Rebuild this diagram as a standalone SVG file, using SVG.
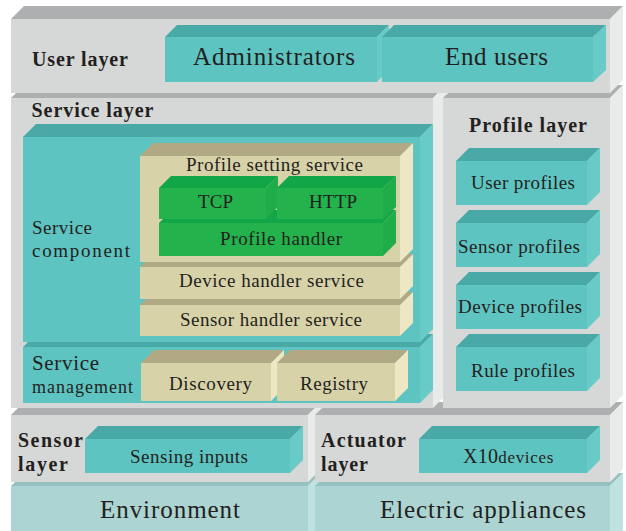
<svg xmlns="http://www.w3.org/2000/svg" width="626" height="531" viewBox="0 0 626 531">
<style>
.gf{fill:#d6d7d7}.gt{fill:#aeafb0}.gs{fill:#e9eaea}
.tf{fill:#5ec4c1}.tt{fill:#49a9a7}.ts{fill:#69cbc7}
.bf{fill:#d8d2a9}.bt{fill:#b1a984}.bs{fill:#ede8c3}
.nf{fill:#23b24b}.nt{fill:#11a748}.ns{fill:#1fac49}
.ef{fill:#acd4d2}.et{fill:#97c1bf}.es{fill:#bfe1df}
text{font-family:"Liberation Serif","Times New Roman",serif;fill:#231f20}
.b{font-weight:bold;font-size:20px}
.l{font-size:25px}
.m{font-size:19px}
</style>
<rect width="626" height="531" fill="#ffffff"/>

<g id="environment">
<polygon class="et" points="11,486 24,473 321,473 308,486"/>
<rect class="ef" x="11" y="486" width="297" height="45"/>
<polygon class="es" points="308,486 321,473 321,531 308,531"/>
<text class="l" x="100" y="518" textLength="140" lengthAdjust="spacing">Environment</text>
</g>
<g id="electric-appliances">
<polygon class="et" points="315,486 328,473 623,473 610,486"/>
<rect class="ef" x="315" y="486" width="295" height="45"/>
<polygon class="es" points="610,486 623,473 623,531 610,531"/>
<text class="l" x="380" y="518" textLength="206" lengthAdjust="spacing">Electric appliances</text>
</g>

<g id="sensor-layer">
<polygon class="gt" points="11,415 24,402 321,402 308,415"/>
<rect class="gf" x="11" y="415" width="297" height="67"/>
<polygon class="gs" points="308,415 321,402 321,469 308,482"/>
<text class="b" x="18" y="447" textLength="65" lengthAdjust="spacing">Sensor</text>
<text class="b" x="18" y="471" textLength="50" lengthAdjust="spacing">layer</text>
</g>
<g id="sensing-inputs">
<polygon class="tt" points="85,439 98,426 303,426 290,439"/>
<rect class="tf" x="85" y="439" width="205" height="34"/>
<polygon class="ts" points="290,439 303,426 303,460 290,473"/>
<text class="m" x="130" y="463" textLength="118" lengthAdjust="spacing">Sensing inputs</text>
</g>
<g id="actuator-layer">
<polygon class="gt" points="315,415 328,402 623,402 610,415"/>
<rect class="gf" x="315" y="415" width="295" height="67"/>
<polygon class="gs" points="610,415 623,402 623,469 610,482"/>
<text class="b" x="321" y="447" textLength="85" lengthAdjust="spacing">Actuator</text>
<text class="b" x="321" y="471" textLength="47" lengthAdjust="spacing">layer</text>
</g>
<g id="x10-devices">
<polygon class="tt" points="419,439 432,426 600,426 587,439"/>
<rect class="tf" x="419" y="439" width="168" height="34"/>
<polygon class="ts" points="587,439 600,426 600,460 587,473"/>
<text x="463" y="463"><tspan font-size="20" textLength="35" lengthAdjust="spacing">X10</tspan><tspan font-size="17" textLength="55" lengthAdjust="spacing">devices</tspan></text>
</g>

<g id="service-layer">
<polygon class="gt" points="11,98 24,85 446,85 433,98"/>
<rect class="gf" x="11" y="98" width="422" height="310"/>
<polygon class="gs" points="433,98 446,85 446,395 433,408"/>
<text class="b" x="31.5" y="117" textLength="122" lengthAdjust="spacing">Service layer</text>
</g>
<g id="service-management">
<polygon class="tt" points="23,347 36,334 433,334 420,347"/>
<rect class="tf" x="23" y="347" width="397" height="56"/>
<polygon class="ts" points="420,347 433,334 433,390 420,403"/>
<text font-size="21" x="32" y="370" textLength="67" lengthAdjust="spacing">Service</text>
<text font-size="18" x="32" y="393" textLength="101" lengthAdjust="spacing">management</text>
</g>
<g id="discovery">
<polygon class="bt" points="141,363 154,350 284,350 271,363"/>
<rect class="bf" x="141" y="363" width="130" height="38"/>
<polygon class="bs" points="271,363 284,350 284,388 271,401"/>
<text class="m" x="169" y="390" textLength="83" lengthAdjust="spacing">Discovery</text>
</g>
<g id="registry">
<polygon class="bt" points="277,363 290,350 408,350 395,363"/>
<rect class="bf" x="277" y="363" width="118" height="38"/>
<polygon class="bs" points="395,363 408,350 408,388 395,401"/>
<text class="m" x="300" y="390" textLength="68" lengthAdjust="spacing">Registry</text>
</g>
<g id="service-component">
<polygon class="tt" points="23,137 36,124 433,124 420,137"/>
<rect class="tf" x="23" y="137" width="397" height="205"/>
<polygon class="ts" points="420,137 433,124 433,329 420,342"/>
<text class="m" x="32" y="234" textLength="60" lengthAdjust="spacing">Service</text>
<text class="m" x="32" y="257" textLength="98" lengthAdjust="spacing">component</text>
</g>
<g id="sensor-handler-service">
<polygon class="bt" points="140,305 153,292 413,292 400,305"/>
<rect class="bf" x="140" y="305" width="260" height="31"/>
<polygon class="bs" points="400,305 413,292 413,323 400,336"/>
<text class="m" x="180" y="326" textLength="182" lengthAdjust="spacing">Sensor handler service</text>
</g>
<g id="device-handler-service">
<polygon class="bt" points="140,267 153,254 413,254 400,267"/>
<rect class="bf" x="140" y="267" width="260" height="32"/>
<polygon class="bs" points="400,267 413,254 413,286 400,299"/>
<text class="m" x="179" y="287" textLength="185" lengthAdjust="spacing">Device handler service</text>
</g>
<g id="profile-setting-service">
<polygon class="bt" points="140,156 153,143 413,143 400,156"/>
<rect class="bf" x="140" y="156" width="260" height="106"/>
<polygon class="bs" points="400,156 413,143 413,249 400,262"/>
<text class="m" x="186" y="171" textLength="177" lengthAdjust="spacing">Profile setting service</text>
</g>
<g id="profile-handler">
<polygon class="nt" points="159,223 172,210 396,210 383,223"/>
<rect class="nf" x="159" y="223" width="224" height="33"/>
<polygon class="ns" points="383,223 396,210 396,243 383,256"/>
<text class="m" x="220" y="245" textLength="122" lengthAdjust="spacing">Profile handler</text>
</g>
<g id="tcp">
<polygon class="nt" points="159,188 171,176 278,176 266,188"/>
<rect class="nf" x="159" y="188" width="107" height="31"/>
<polygon class="ns" points="266,188 278,176 278,207 266,219"/>
<text class="m" x="198" y="208" textLength="35" lengthAdjust="spacing">TCP</text>
</g>
<g id="http">
<polygon class="nt" points="277,188 289,176 396,176 383,188"/>
<rect class="nf" x="277" y="188" width="106" height="31"/>
<polygon class="ns" points="383,188 396,176 396,207 383,219"/>
<text class="m" x="309" y="208" textLength="48" lengthAdjust="spacing">HTTP</text>
</g>

<g id="profile-layer">
<polygon class="gt" points="443,98 456,85 623,85 610,98"/>
<rect class="gf" x="443" y="98" width="167" height="310"/>
<polygon class="gs" points="610,98 623,85 623,395 610,408"/>
<text class="b" x="469" y="132" textLength="118" lengthAdjust="spacing">Profile layer</text>
</g>
<g id="user-profiles">
<polygon class="tt" points="456,161 469,148 600,148 587,161"/>
<rect class="tf" x="456" y="161" width="131" height="44"/>
<polygon class="ts" points="587,161 600,148 600,192 587,205"/>
<text class="m" x="471" y="189" textLength="104" lengthAdjust="spacing">User profiles</text>
</g>
<g id="sensor-profiles">
<polygon class="tt" points="456,223 469,210 600,210 587,223"/>
<rect class="tf" x="456" y="223" width="131" height="44"/>
<polygon class="ts" points="587,223 600,210 600,254 587,267"/>
<text class="m" x="458" y="253" textLength="122" lengthAdjust="spacing">Sensor profiles</text>
</g>
<g id="device-profiles">
<polygon class="tt" points="456,285 469,272 600,272 587,285"/>
<rect class="tf" x="456" y="285" width="131" height="44"/>
<polygon class="ts" points="587,285 600,272 600,316 587,329"/>
<text class="m" x="458" y="313" textLength="124" lengthAdjust="spacing">Device profiles</text>
</g>
<g id="rule-profiles">
<polygon class="tt" points="456,347 469,334 600,334 587,347"/>
<rect class="tf" x="456" y="347" width="131" height="44"/>
<polygon class="ts" points="587,347 600,334 600,378 587,391"/>
<text class="m" x="471" y="377" textLength="104" lengthAdjust="spacing">Rule profiles</text>
</g>

<g id="user-layer">
<polygon class="gt" points="11,19 24,6 623,6 610,19"/>
<rect class="gf" x="11" y="19" width="599" height="74"/>
<polygon class="gs" points="610,19 623,6 623,80 610,93"/>
<text class="b" x="32" y="66" textLength="96" lengthAdjust="spacing">User layer</text>
</g>
<g id="administrators">
<polygon class="tt" points="165,37 177,25 389,25 377,37"/>
<rect class="tf" x="165" y="37" width="212" height="45"/>
<polygon class="ts" points="377,37 389,25 389,70 377,82"/>
<text class="l" x="193" y="65" textLength="162" lengthAdjust="spacing">Administrators</text>
</g>
<g id="end-users">
<polygon class="tt" points="382,37 394,25 606,25 593,37"/>
<rect class="tf" x="382" y="37" width="211" height="45"/>
<polygon class="ts" points="593,37 606,25 606,70 593,82"/>
<text class="l" x="445" y="65" textLength="103" lengthAdjust="spacing">End users</text>
</g>
<g id="connectors"/>
</svg>
